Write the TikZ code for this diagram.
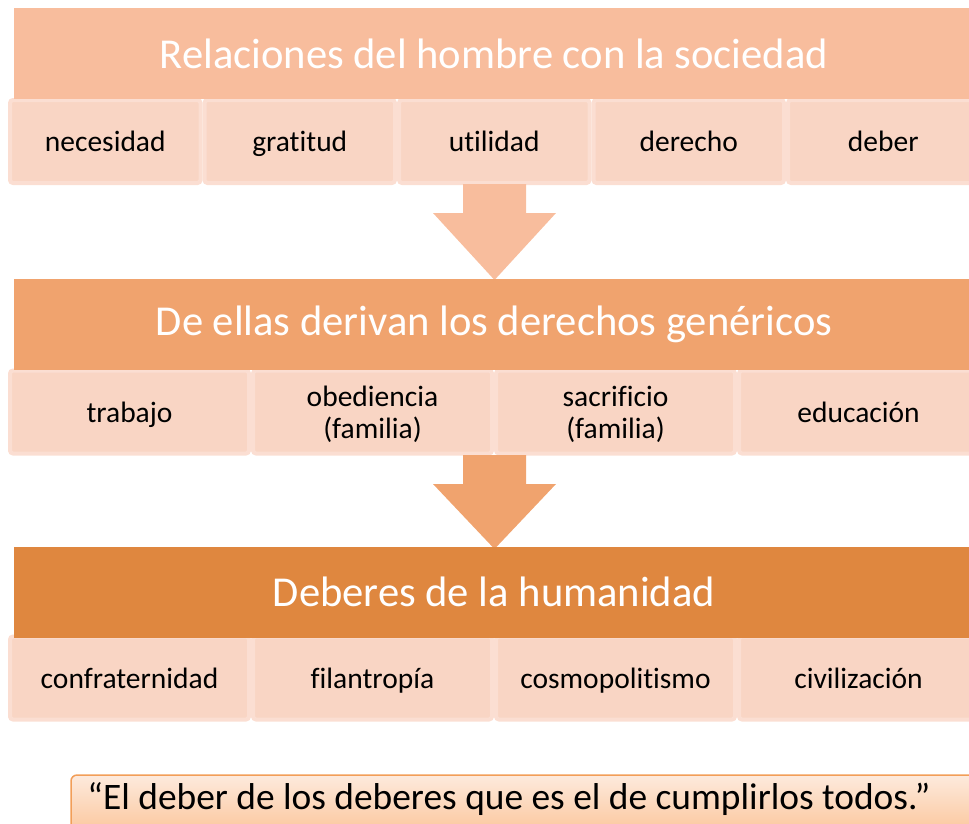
\documentclass[tikz,border=0pt]{standalone}
\usepackage{fontspec}
\setmainfont{Carlito}[Ligatures=NoCommon]
\definecolor{hdrA}{HTML}{F8BD9D}
\definecolor{hdrB}{HTML}{F0A36E}
\definecolor{hdrC}{HTML}{DF873F}
\definecolor{cellfill}{HTML}{F9D5C4}
\definecolor{celledge}{HTML}{FBDED2}
\definecolor{quoteedge}{HTML}{F29E58}
\definecolor{quotetop}{HTML}{FDEADD}
\definecolor{quotebot}{HTML}{FBC294}
\newcommand\cstrut{\rule[-9.6pt]{0pt}{40pt}}
\begin{document}
\begin{tikzpicture}[x=1pt,y=-1pt]
\tikzstyle{every node}+=[inner sep=0pt]
\tikzstyle{hdr}=[minimum width=961pt, minimum height=91pt, text=white, font=\fontsize{42.6}{46}\selectfont]
\tikzstyle{cell}=[fill=cellfill, draw=celledge, line width=4pt, rounded corners=3pt, minimum height=83pt, align=center, font=\fontsize{29.5}{32}\selectfont]
\tikzstyle{quote}=[rounded corners=6pt, draw=quoteedge, line width=1.5pt, top color=quotetop, bottom color=quotebot]
\useasboundingbox (0,0) rectangle (969,823);
\clip (0,0) rectangle (969,823);
% first block
\node [cell, minimum width=190.5pt] (nec) at (105.25,141.5) {\cstrut necesidad};
\node [cell, minimum width=190.5pt] (grat) at (299.75,141.5) {\cstrut gratitud};
\node [cell, minimum width=190.5pt] (util) at (494.25,141.5) {\cstrut utilidad};
\node [cell, minimum width=190.5pt] (der) at (688.75,141.5) {\cstrut derecho};
\node [cell, minimum width=190.5pt] (deb) at (883.25,141.5) {\cstrut deber};
\node [hdr, fill=hdrA] (rel) at (494,53.5) {Relaciones del hombre con la sociedad};
\fill [hdrA] (463,184) -- (526,184) -- (526,213) -- (556,213) -- (494.5,280) -- (433,213) -- (463,213) -- cycle;
% second block
\node [cell, minimum width=239pt] (trab) at (129.5,412) {\cstrut trabajo};
\node [cell, minimum width=239pt] (obed) at (372.5,412) {\cstrut obediencia\\\strut (familia)};
\node [cell, minimum width=239pt] (sacr) at (615.5,412) {\cstrut sacrificio\\\strut (familia)};
\node [cell, minimum width=239pt] (educ) at (858.5,412) {\cstrut educación};
\node [hdr, fill=hdrB] (gen) at (494,324) {De ellas derivan los derechos genéricos};
\fill [hdrB] (463,455) -- (526,455) -- (526,484) -- (556,484) -- (494.5,549) -- (433,484) -- (463,484) -- cycle;
% third block
\node [cell, minimum width=239pt] (conf) at (129.5,678) {\cstrut confraternidad};
\node [cell, minimum width=239pt] (fila) at (372.5,678) {\cstrut filantropía};
\node [cell, minimum width=239pt] (cosm) at (615.5,678) {\cstrut cosmopolitismo};
\node [cell, minimum width=239pt] (civi) at (858.5,678) {\cstrut civilización};
\node [hdr, fill=hdrC] (hum) at (494,592) {Deberes de la humanidad};
% quote
\draw [quote] (71,775) rectangle (990,840);
\node [font=\fontsize{37.4}{40}\selectfont] (cita) at (509,799) {“El deber de los deberes que es el de cumplirlos todos.”};
\end{tikzpicture}
\end{document}
